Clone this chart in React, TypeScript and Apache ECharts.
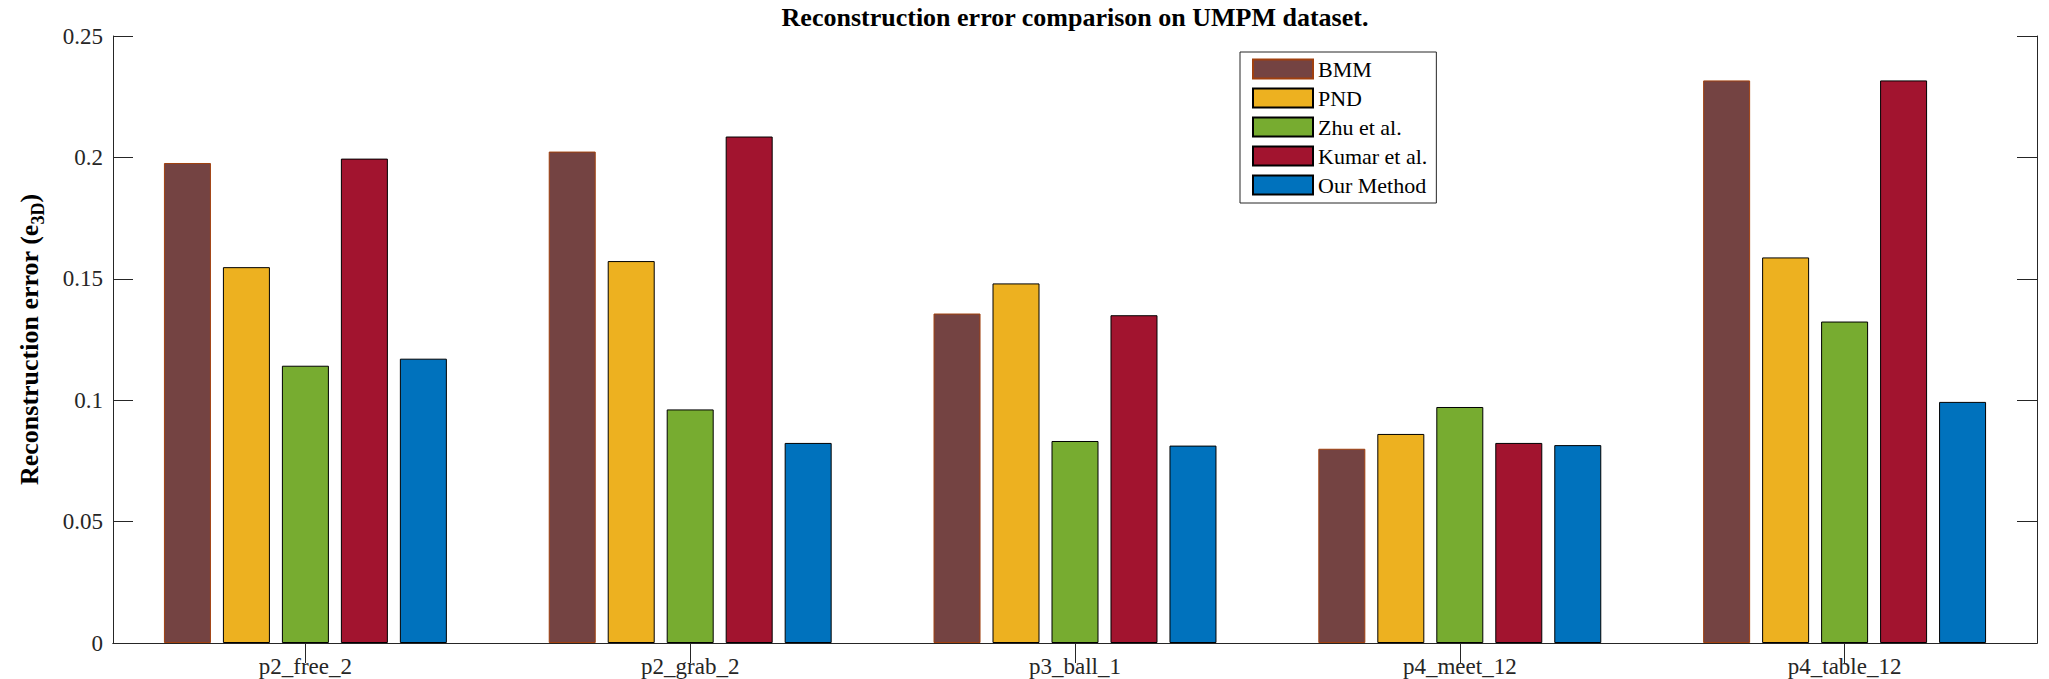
import React, { useEffect, useRef } from "react";
import * as echarts from "echarts";

const categories = ["p2_free_2", "p2_grab_2", "p3_ball_1", "p4_meet_12", "p4_table_12"];
const seriesNames = ["BMM", "PND", "Zhu et al.", "Kumar et al.", "Our Method"];
const bmm = [0.1977, 0.2024, 0.1357, 0.08, 0.2317];
const pnd = [0.1548, 0.1573, 0.1481, 0.0861, 0.1588];
const zhu = [0.1142, 0.0962, 0.0832, 0.0972, 0.1324];
const kumar = [0.1995, 0.2086, 0.135, 0.0824, 0.2317];
const ours = [0.1171, 0.0824, 0.0813, 0.0815, 0.0993];
const seriesValues = [bmm, pnd, zhu, kumar, ours];
const fills = ["#744342", "#EDB120", "#77AC30", "#A2142F", "#0072BD"];
const edges = ["#A0400F", "#000000", "#000000", "#000000", "#000000"];

const FONT = "'Liberation Serif', 'Times New Roman', serif";
const AX = "#262626";

export default function App() {
  const ref = useRef<HTMLDivElement>(null);
  useEffect(() => {
    if (!ref.current) return;
    const chart = echarts.init(ref.current, null, { renderer: "svg" });
    const axisLine = { show: true, lineStyle: { color: AX, width: 1 } };
    chart.setOption({
      animation: false,
      backgroundColor: "#ffffff",
      textStyle: { fontFamily: FONT },
      title: {
        text: "Reconstruction error comparison on UMPM dataset.",
        left: 1075,
        top: 4,
        padding: 0,
        textAlign: "center",
        textStyle: { fontFamily: FONT, fontSize: 26, fontWeight: "bold", color: "#000" },
      },
      legend: {
        orient: "vertical",
        left: 1240,
        top: 52,
        padding: [6, 9, 7, 12],
        itemWidth: 60,
        itemHeight: 19,
        itemGap: 7,
        icon: "rect",
        borderColor: AX,
        borderWidth: 1,
        backgroundColor: "#fff",
        textStyle: { fontFamily: FONT, fontSize: 22, color: "#000", lineHeight: 19 },
        data: seriesNames,
      },
      grid: { left: 113, right: 12, top: 36, bottom: 36, containLabel: false },
      xAxis: [
        {
          type: "category",
          data: categories,
          position: "bottom",
          boundaryGap: true,
          axisLine,
          axisTick: { show: true, inside: true, length: 20, alignWithLabel: true, lineStyle: { color: AX } },
          axisLabel: { fontFamily: FONT, fontSize: 23, color: AX, margin: 12 },
        },
        {
          type: "category",
          data: categories,
          position: "top",
          boundaryGap: true,
          axisLine,
          axisTick: { show: true, inside: true, length: 20, alignWithLabel: true, lineStyle: { color: AX } },
          axisLabel: { show: false },
        },
      ],
      yAxis: [
        {
          type: "value",
          position: "left",
          min: 0,
          max: 0.25,
          interval: 0.05,
          axisLine,
          axisTick: { show: true, inside: true, length: 20, lineStyle: { color: AX } },
          axisLabel: { fontFamily: FONT, fontSize: 23, color: AX, margin: 10 },
          splitLine: { show: false },
          name: "{a|Reconstruction error (e}{s|3D}{a|)}",
          nameLocation: "middle",
          nameRotate: 90,
          nameGap: 66,
          nameTextStyle: {
            rich: {
              a: { fontFamily: FONT, fontSize: 26, fontWeight: "bold", color: "#000", lineHeight: 31, verticalAlign: "top" },
              s: { fontFamily: FONT, fontSize: 18, fontWeight: "bold", color: "#000", lineHeight: 18, verticalAlign: "bottom" },
            },
          },
        },
        {
          type: "value",
          position: "right",
          min: 0,
          max: 0.25,
          interval: 0.05,
          axisLine,
          axisTick: { show: true, inside: true, length: 20, lineStyle: { color: AX } },
          axisLabel: { show: false },
          splitLine: { show: false },
        },
      ],
      series: seriesNames.map((name, i) => ({
        name,
        type: "bar",
        xAxisIndex: 0,
        yAxisIndex: 0,
        data: seriesValues[i],
        barWidth: 47,
        barGap: "25.5%",
        itemStyle: { color: fills[i], borderColor: edges[i], borderWidth: 1 },
      })),
    });
    return () => chart.dispose();
  }, []);
  return (
    <div
      ref={ref}
      style={{ position: "fixed", left: 0, top: 0, width: 2049, height: 679, background: "#fff" }}
    />
  );
}
